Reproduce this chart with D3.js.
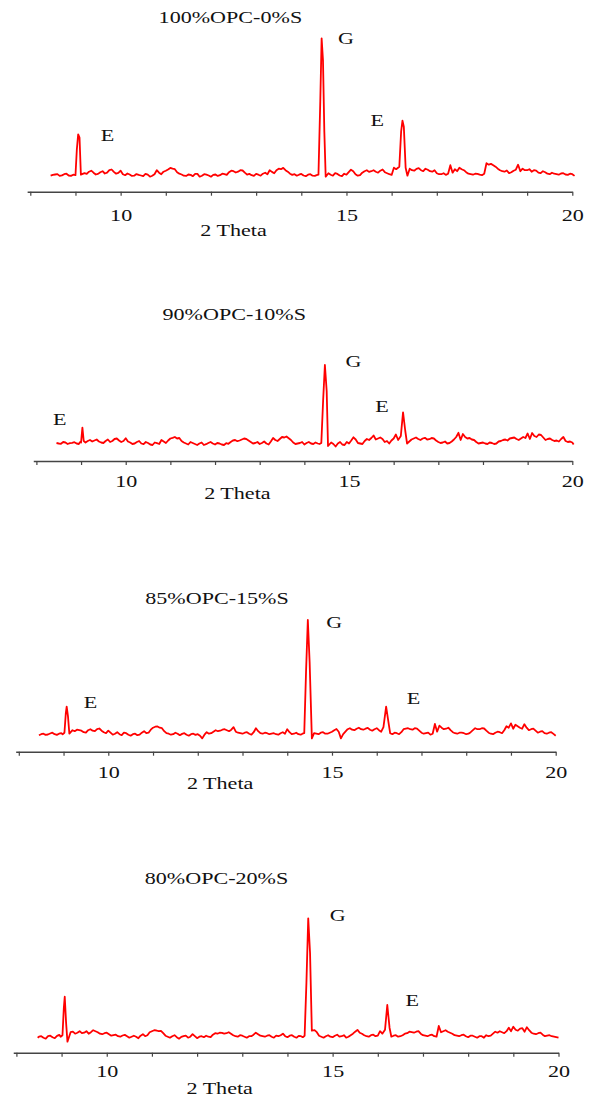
<!DOCTYPE html>
<html>
<head>
<meta charset="utf-8">
<script src="https://cdn.jsdelivr.net/npm/d3@7"></script>
<style>
  html, body { margin: 0; padding: 0; background: #ffffff; }
  svg { display: block; }
</style>
</head>
<body>
<svg id="chart" width="592" height="1100"></svg>
<script>
// ---------------- DATA ----------------
// XRD patterns: [2 theta (deg), intensity (a.u.)]
const xrd100 = [[8.45,160],[8.55,172],[8.65,158],[8.75,175],[8.85,162],[8.95,170],[9.00,165],[9.03,420],[9.06,574],[9.09,540],[9.12,170],
[9.2,185],[9.3,200],[9.4,190],[9.5,178],[9.6,205],[9.7,190],[9.8,222],[9.9,180],[10.0,210],[10.1,165],[10.2,172],[10.3,160],[10.4,168],
[10.5,155],[10.6,170],[10.7,160],[10.8,215],[10.9,175],[11.0,210],[11.1,238],[11.2,225],[11.3,180],[11.4,160],[11.5,172],[11.6,155],
[11.7,178],[11.8,160],[11.9,170],[12.0,150],[12.1,172],[12.2,165],[12.3,175],[12.4,195],[12.5,205],[12.6,200],[12.7,212],[12.8,170],
[12.9,165],[13.0,178],[13.1,160],[13.2,190],[13.3,215],[13.4,185],[13.5,230],[13.6,238],[13.7,200],[13.8,168],[13.9,160],[14.0,178],
[14.1,155],[14.2,175],[14.3,158],[14.38,170],[14.42,900],[14.45,1534],[14.48,1317],[14.51,600],[14.54,150],[14.6,185],[14.7,160],
[14.8,178],[14.9,155],[15.0,170],[15.1,220],[15.2,175],[15.3,165],[15.4,205],[15.5,198],[15.6,215],[15.7,190],[15.8,222],[15.9,185],
[16.0,168],[16.05,240],[16.1,225],[16.17,250],[16.21,600],[16.24,710],[16.27,650],[16.31,240],[16.35,160],[16.4,230],[16.5,210],
[16.6,235],[16.7,205],[16.8,220],[16.9,200],[17.0,185],[17.1,175],[17.2,168],[17.3,265],[17.35,190],[17.4,225],[17.5,240],[17.6,215],
[17.7,180],[17.8,170],[17.9,178],[18.0,165],[18.1,285],[18.15,270],[18.2,278],[18.3,250],[18.4,215],[18.5,200],[18.6,185],[18.7,210],
[18.8,270],[18.85,205],[18.9,230],[19.0,215],[19.1,200],[19.2,210],[19.3,185],[19.4,195],[19.5,175],[19.6,180],[19.7,170],[19.8,185],
[19.9,168],[20.0,175],[20.05,158]];
const fine100 = [[8.5,168],[8.6,176],[8.7,163],[8.8,180],[8.9,158],[9.25,178],[9.35,210],[9.45,172],[9.55,195],[9.65,182],[9.75,215],
[9.85,198],[9.95,188],[10.05,175],[10.15,182],[10.25,158],[10.35,176],[10.45,162],[10.55,178],[10.65,150],[10.75,175],[10.85,190],
[10.95,200],[11.05,222],[11.15,230],[11.25,195],[11.35,172],[11.45,158],[11.55,168],[11.65,178],[11.75,150],[11.85,175],[11.95,162],
[12.05,168],[12.15,158],[12.25,180],[12.35,168],[12.45,210],[12.55,192],[12.65,215],[12.75,190],[12.85,178],[12.95,158],[13.05,170],
[13.15,180],[13.25,175],[13.35,198],[13.45,215],[13.55,225],[13.65,215],[13.75,180],[13.85,175],[13.95,170],[14.05,162],[14.15,170],
[14.25,160],[14.34,165],[14.65,170],[14.75,185],[14.85,162],[14.95,180],[15.05,195],[15.15,205],[15.25,160],[15.35,190],[15.45,215],
[15.55,205],[15.65,200],[15.75,210],[15.85,195],[15.95,175],[16.45,215],[16.55,228],[16.65,215],[16.75,230],[16.85,205],[16.95,215],
[17.05,175],[17.15,185],[17.25,180],[17.45,205],[17.55,225],[17.65,195],[17.75,175],[17.85,180],[17.95,170],[18.05,180],[18.25,265],
[18.35,230],[18.45,205],[18.55,212],[18.65,195],[18.75,220],[18.95,215],[19.05,225],[19.15,215],[19.25,190],[19.35,205],[19.45,180],
[19.55,190],[19.65,175],[19.75,182],[19.85,172],[19.95,180]];

const xrd90 = [[8.45,180],[8.55,172],[8.65,185],[8.75,178],[8.85,188],[8.95,170],[9.0,185],[9.03,333],[9.06,200],[9.1,185],[9.2,210],
[9.3,205],[9.4,195],[9.5,180],[9.6,215],[9.7,200],[9.8,225],[9.9,190],[10.0,228],[10.1,185],[10.2,175],[10.3,200],[10.4,168],[10.5,180],
[10.6,160],[10.7,178],[10.8,210],[10.9,180],[11.0,225],[11.1,240],[11.2,230],[11.3,185],[11.4,165],[11.5,180],[11.6,160],[11.7,185],
[11.8,168],[11.9,190],[12.0,165],[12.1,175],[12.2,160],[12.3,172],[12.4,205],[12.5,198],[12.6,215],[12.7,220],[12.8,190],[12.9,180],
[13.0,170],[13.1,195],[13.2,165],[13.3,230],[13.4,200],[13.5,240],[13.6,245],[13.7,210],[13.8,170],[13.9,180],[14.0,165],[14.1,190],
[14.2,170],[14.3,175],[14.38,180],[14.42,600],[14.46,960],[14.5,700],[14.53,150],[14.6,185],[14.7,145],[14.8,190],[14.9,160],[15.0,175],
[15.1,237],[15.2,180],[15.3,170],[15.4,220],[15.5,230],[15.55,255],[15.6,215],[15.7,235],[15.8,190],[15.9,175],[16.0,225],[16.05,265],
[16.1,210],[16.16,250],[16.21,487],[16.26,300],[16.3,175],[16.4,215],[16.5,235],[16.6,210],[16.7,232],[16.8,218],[16.9,225],[17.0,190],
[17.1,185],[17.2,175],[17.3,195],[17.45,282],[17.5,210],[17.55,270],[17.6,240],[17.7,230],[17.8,210],[17.9,175],[18.0,185],[18.1,170],
[18.2,180],[18.3,175],[18.4,200],[18.5,215],[18.6,225],[18.7,235],[18.8,210],[18.9,240],[19.0,275],[19.05,220],[19.1,280],[19.2,240],
[19.3,260],[19.4,210],[19.5,225],[19.6,200],[19.7,195],[19.8,240],[19.9,190],[20.0,185],[20.03,165]];
const fine90 = [[8.5,175],[8.6,190],[8.7,170],[8.8,182],[8.9,175],[8.98,190],[9.15,200],[9.25,195],[9.35,215],[9.45,185],[9.55,200],
[9.65,190],[9.75,220],[9.85,205],[9.95,200],[10.05,195],[10.15,170],[10.25,190],[10.35,175],[10.45,190],[10.55,165],[10.65,185],
[10.75,170],[10.85,195],[10.95,205],[11.05,232],[11.15,225],[11.25,200],[11.35,175],[11.45,190],[11.55,170],[11.65,175],[11.75,160],
[11.85,180],[11.95,175],[12.05,180],[12.15,165],[12.25,178],[12.35,190],[12.45,210],[12.55,205],[12.65,225],[12.75,205],[12.85,175],
[12.95,190],[13.05,180],[13.15,175],[13.25,195],[13.35,210],[13.45,220],[13.55,235],[13.65,228],[13.75,185],[13.85,175],[13.95,190],
[14.05,180],[14.15,175],[14.25,185],[14.34,170],[14.65,170],[14.75,175],[14.85,165],[14.95,190],[15.05,205],[15.15,215],[15.25,175],
[15.35,200],[15.45,210],[15.65,225],[15.75,220],[15.85,200],[15.95,205],[16.45,225],[16.55,220],[16.65,225],[16.75,215],[16.85,230],
[16.95,205],[17.05,180],[17.15,195],[17.25,180],[17.35,215],[17.4,240],[17.65,225],[17.75,215],[17.85,190],[17.95,180],[18.05,175],
[18.15,185],[18.25,170],[18.35,195],[18.45,210],[18.55,205],[18.65,230],[18.75,220],[18.85,225],[18.95,230],[19.15,250],[19.25,265],
[19.35,235],[19.45,220],[19.55,210],[19.65,205],[19.75,220],[19.85,200],[19.95,195]];

const xrd85 = [[8.45,165],[8.55,180],[8.65,172],[8.75,190],[8.85,168],[8.95,185],[9.02,190],[9.05,380],[9.07,450],[9.1,350],[9.13,180],
[9.2,215],[9.3,220],[9.4,210],[9.5,190],[9.6,225],[9.7,205],[9.8,232],[9.9,195],[10.0,210],[10.1,170],[10.2,195],[10.3,165],[10.4,185],
[10.5,160],[10.6,180],[10.7,170],[10.8,205],[10.9,190],[11.0,240],[11.1,252],[11.2,235],[11.3,185],[11.4,170],[11.5,190],[11.6,165],
[11.7,185],[11.8,160],[11.9,180],[12.0,175],[12.1,133],[12.2,195],[12.3,185],[12.4,215],[12.5,210],[12.6,225],[12.7,205],[12.8,245],
[12.9,190],[13.0,180],[13.1,195],[13.2,170],[13.3,235],[13.4,185],[13.5,190],[13.6,175],[13.7,185],[13.8,170],[13.9,195],[14.0,225],
[14.1,175],[14.2,190],[14.3,170],[14.38,185],[14.42,800],[14.46,1317],[14.5,900],[14.55,133],[14.6,185],[14.7,175],[14.8,195],[14.9,180],
[15.0,200],[15.1,227],[15.15,200],[15.2,133],[15.3,200],[15.4,235],[15.5,215],[15.6,240],[15.7,220],[15.8,238],[15.9,210],[16.0,235],
[16.1,200],[16.15,245],[16.21,450],[16.26,300],[16.3,185],[16.4,190],[16.5,175],[16.6,225],[16.7,235],[16.8,220],[16.9,230],[17.0,190],
[17.1,185],[17.2,170],[17.3,277],[17.35,200],[17.4,260],[17.5,225],[17.6,240],[17.7,195],[17.8,180],[17.9,190],[18.0,175],[18.1,195],
[18.2,235],[18.3,225],[18.4,232],[18.5,190],[18.6,175],[18.7,200],[18.8,185],[18.9,255],[19.0,283],[19.05,230],[19.1,270],[19.2,240],
[19.3,275],[19.4,215],[19.5,230],[19.6,190],[19.7,205],[19.8,180],[19.9,195],[20.0,160]];
const fine85 = [[8.5,175],[8.6,168],[8.7,182],[8.8,175],[8.9,180],[8.98,175],[9.25,205],[9.35,215],[9.45,195],[9.55,215],[9.65,210],
[9.75,225],[9.85,210],[9.95,185],[10.05,190],[10.15,180],[10.25,175],[10.35,190],[10.45,170],[10.55,175],[10.65,165],[10.75,190],
[10.85,185],[10.95,220],[11.05,250],[11.15,240],[11.25,205],[11.35,180],[11.45,175],[11.55,180],[11.65,178],[11.75,170],[11.85,175],
[11.95,168],[12.05,160],[12.15,170],[12.25,180],[12.35,200],[12.45,205],[12.55,220],[12.65,215],[12.75,220],[12.85,200],[12.95,185],
[13.05,190],[13.15,180],[13.25,195],[13.35,205],[13.45,180],[13.55,185],[13.65,180],[13.75,175],[13.85,185],[13.95,180],[14.05,195],
[14.15,180],[14.25,175],[14.34,180],[14.65,180],[14.75,190],[14.85,180],[14.95,190],[15.05,215],[15.25,175],[15.35,225],[15.45,220],
[15.55,230],[15.65,225],[15.75,230],[15.85,220],[15.95,225],[16.05,215],[16.35,175],[16.45,185],[16.55,195],[16.65,230],[16.75,225],
[16.85,235],[16.95,210],[17.05,180],[17.15,190],[17.25,180],[17.45,240],[17.55,230],[17.65,215],[17.75,185],[17.85,190],[17.95,185],
[18.05,180],[18.15,215],[18.25,225],[18.35,235],[18.45,210],[18.55,180],[18.65,190],[18.75,195],[18.85,215],[18.95,240],[19.15,255],
[19.25,230],[19.35,240],[19.45,225],[19.55,210],[19.65,200],[19.75,185],[19.85,190],[19.95,178]];

const xrd80 = [[8.47,150],[8.55,165],[8.65,140],[8.75,170],[8.85,145],[8.95,178],[9.02,175],[9.05,450],[9.07,560],[9.1,300],[9.13,110],
[9.2,205],[9.3,190],[9.4,215],[9.5,200],[9.6,190],[9.7,225],[9.8,205],[9.9,185],[10.0,200],[10.1,170],[10.2,180],[10.3,160],[10.4,178],
[10.5,150],[10.6,170],[10.7,145],[10.8,185],[10.9,175],[11.0,215],[11.1,222],[11.2,218],[11.3,170],[11.4,150],[11.5,175],[11.6,140],
[11.7,165],[11.8,150],[11.9,185],[12.0,145],[12.1,165],[12.2,170],[12.3,155],[12.4,195],[12.5,200],[12.6,190],[12.7,205],[12.8,175],
[12.9,160],[13.0,170],[13.1,150],[13.2,165],[13.3,200],[13.4,170],[13.5,160],[13.6,175],[13.7,150],[13.8,165],[13.9,190],[14.0,155],
[14.1,175],[14.2,150],[14.3,165],[14.38,170],[14.42,700],[14.46,1344],[14.5,1000],[14.54,220],[14.6,225],[14.65,205],[14.7,170],
[14.8,150],[14.9,175],[15.0,155],[15.1,180],[15.2,165],[15.3,150],[15.4,175],[15.5,210],[15.55,228],[15.6,200],[15.7,175],[15.8,160],
[15.9,180],[16.0,170],[16.05,215],[16.1,190],[16.16,230],[16.21,477],[16.26,250],[16.3,160],[16.4,175],[16.5,165],[16.6,190],[16.7,210],
[16.8,200],[16.9,215],[17.0,175],[17.1,165],[17.2,180],[17.3,160],[17.35,267],[17.4,205],[17.5,225],[17.6,200],[17.7,175],[17.8,165],
[17.9,180],[18.0,155],[18.1,170],[18.2,150],[18.3,165],[18.4,175],[18.5,170],[18.6,210],[18.7,215],[18.8,195],[18.9,250],[18.95,215],
[19.0,260],[19.1,220],[19.2,245],[19.3,255],[19.4,200],[19.5,185],[19.6,200],[19.7,165],[19.8,175],[19.9,160],[20.0,150]];
const fine80 = [[8.5,160],[8.6,150],[8.7,165],[8.8,155],[8.9,168],[8.98,160],[9.25,210],[9.35,200],[9.45,195],[9.55,215],[9.65,205],
[9.75,215],[9.85,190],[9.95,195],[10.05,185],[10.15,175],[10.25,165],[10.35,172],[10.45,165],[10.55,160],[10.65,160],[10.75,170],
[10.85,165],[10.95,205],[11.05,225],[11.15,215],[11.25,195],[11.35,160],[11.45,165],[11.55,155],[11.65,158],[11.75,170],[11.85,160],
[11.95,165],[12.05,160],[12.15,155],[12.25,160],[12.35,180],[12.45,190],[12.55,198],[12.65,195],[12.75,190],[12.85,165],[12.95,175],
[13.05,160],[13.15,165],[13.25,180],[13.35,185],[13.45,165],[13.55,170],[13.65,160],[13.75,170],[13.85,175],[13.95,165],[14.05,170],
[14.15,160],[14.25,168],[14.34,155],[14.75,160],[14.85,165],[14.95,160],[15.05,170],[15.15,160],[15.25,175],[15.35,160],[15.45,190],
[15.65,190],[15.75,165],[15.85,175],[15.95,165],[16.35,170],[16.45,160],[16.55,175],[16.65,195],[16.75,205],[16.85,210],[16.95,190],
[17.05,170],[17.15,175],[17.25,165],[17.45,215],[17.55,210],[17.65,190],[17.75,170],[17.85,175],[17.95,165],[18.05,170],[18.15,160],
[18.25,165],[18.35,150],[18.45,165],[18.55,190],[18.65,200],[18.75,205],[18.85,215],[19.05,230],[19.15,240],[19.25,210],[19.35,225],
[19.45,190],[19.55,195],[19.65,180],[19.75,170],[19.85,165],[19.95,155]];

const panelTitles = ["100%OPC-0%S", "90%OPC-10%S", "85%OPC-15%S", "80%OPC-20%S"];
const xTickValues = [8, 9, 10, 11, 12, 13, 14, 15, 16, 17, 18, 19, 20];
const xTickLabels = [10, 15, 20];
const xAxisTitle = "2 Theta";

// Peak labels: [text, 2 theta, intensity]
const peaks100 = [["E", 9.71, 567], ["G", 14.99, 1534], ["E", 15.68, 717]];
const peaks90  = [["E", 8.52, 417], ["G", 15.10, 1000], ["E", 15.74, 550]];
const peaks85  = [["E", 9.60, 500], ["G", 15.05, 1300], ["E", 16.82, 534]];
const peaks80  = [["G", 15.11, 1377], ["E", 16.76, 527]];

// title anchors: [2 theta, intensity]
const titlePos = [[12.43, 1750], [12.43, 1470], [12.43, 1534], [12.43, 1747]];

// ---------------- LAYOUT (pixels) ----------------
const layout = [
  { x8: 30.3, x20: 572.3, axisY: 191.7, tickLab: 23, axTitle: 38 },
  { x8: 36.4, x20: 572.3, axisY: 461.0, tickLab: 20.5, axTitle: 32 },
  { x8: 18.8, x20: 555.7, axisY: 751.7, tickLab: 20.5, axTitle: 31 },
  { x8: 16.4, x20: 558.5, axisY: 1052.7, tickLab: 18, axTitle: 35 }
];
const series = [xrd100.concat(fine100), xrd90.concat(fine90), xrd85.concat(fine85), xrd80.concat(fine80)]
  .map(s => s.slice().sort((a, b) => a[0] - b[0]));
const peakSets = [peaks100, peaks90, peaks85, peaks80];

const FONT = "'Liberation Serif', 'Times New Roman', serif";
const STRETCH = 1.3;
const pxPerCount = 0.1;

const svg = d3.select("#chart");
svg.append("rect").attr("width", 592).attr("height", 1100).attr("fill", "#fff");

layout.forEach((L, i) => {
  const unit = (L.x20 - L.x8) / 12;
  const x = d3.scaleLinear().domain([7.93, 20]).range([L.x8 - 0.07 * unit, L.x20]);
  const H = 2000;
  const y = d3.scaleLinear().domain([0, H]).range([L.axisY, L.axisY - H * pxPerCount]);

  const g = svg.append("g");

  const axis = d3.axisBottom(x)
    .tickValues(xTickValues)
    .tickSize(4)
    .tickSizeOuter(0)
    .tickFormat(d => xTickLabels.includes(d) ? d3.format("d")(d) : "");
  const ag = g.append("g").attr("transform", `translate(0,${L.axisY})`).call(axis);
  ag.select(".domain").attr("stroke", "#444").attr("stroke-width", 1.4);
  ag.selectAll(".tick line").attr("stroke", "#444").attr("stroke-width", 1.2);
  ag.selectAll(".tick text")
    .attr("font-family", FONT).attr("font-size", 17).attr("fill", "#111")
    .attr("y", L.tickLab).attr("dy", "0.35em")
    .attr("transform", `scale(${STRETCH},1)`);

  g.append("text")
    .attr("transform", `translate(${x(12.5)},${L.axisY + L.axTitle}) scale(${STRETCH},1)`)
    .attr("text-anchor", "middle").attr("dy", "0.35em")
    .attr("font-family", FONT).attr("font-size", 17).attr("fill", "#111")
    .text(xAxisTitle);

  const line = d3.line().x(d => x(d[0])).y(d => y(d[1]));
  g.append("path").datum(series[i])
    .attr("d", line)
    .attr("fill", "none")
    .attr("stroke", "#ff0000")
    .attr("stroke-width", 1.8)
    .attr("stroke-linejoin", "round");

  g.append("text")
    .attr("transform", `translate(${x(titlePos[i][0])},${y(titlePos[i][1])}) scale(${STRETCH},1)`)
    .attr("text-anchor", "middle").attr("dy", "0.35em")
    .attr("font-family", FONT).attr("font-size", 17).attr("fill", "#111")
    .text(panelTitles[i]);

  g.selectAll("text.peak").data(peakSets[i]).enter().append("text")
    .attr("class", "peak")
    .attr("transform", d => `translate(${x(d[1])},${y(d[2])}) scale(${STRETCH},1)`)
    .attr("text-anchor", "middle").attr("dy", "0.35em")
    .attr("font-family", FONT).attr("font-size", 17).attr("fill", "#111")
    .text(d => d[0]);
});
</script>
</body>
</html>
